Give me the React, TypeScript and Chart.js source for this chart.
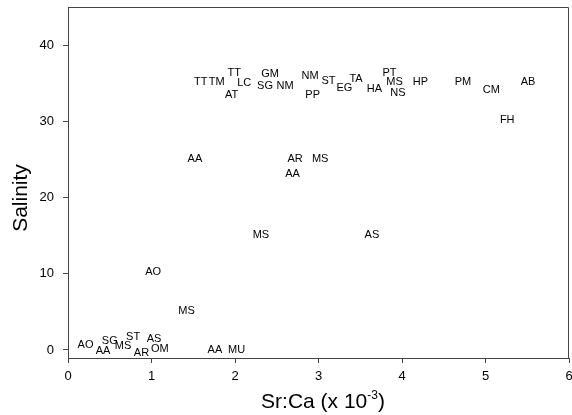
import React, { useEffect, useRef } from "react";
import { Chart, registerables } from "chart.js";

Chart.register(...registerables);

const siteLabels = [
  "TT", "TM", "TT", "LC", "AT", "GM", "SG", "NM", "NM", "PP",
  "ST", "EG", "TA", "HA", "PT", "MS", "NS", "HP", "PM", "CM",
  "AB", "FH", "AA", "AR", "MS", "AA", "MS", "AS", "AO", "MS",
  "AO", "AA", "SG", "MS", "ST", "AS", "AR", "OM", "AA", "MU",
];
const srCa = [
  1.59, 1.78, 1.99, 2.11, 1.96, 2.42, 2.36, 2.6, 2.9, 2.93,
  3.12, 3.31, 3.45, 3.67, 3.85, 3.91, 3.95, 4.22, 4.73, 5.07,
  5.51, 5.26, 1.52, 2.72, 3.02, 2.69, 2.31, 3.64, 1.02, 1.42,
  0.21, 0.42, 0.5, 0.66, 0.78, 1.03, 0.88, 1.1, 1.76, 2.02,
];
const salinity = [
  35.2, 35.2, 36.4, 35.0, 33.5, 36.2, 34.6, 34.6, 36.0, 33.5,
  35.3, 34.4, 35.6, 34.3, 36.4, 35.2, 33.7, 35.2, 35.2, 34.1,
  35.2, 30.2, 25.1, 25.1, 25.1, 23.1, 15.1, 15.1, 10.2, 5.1,
  0.66, -0.1, 1.2, 0.5, 1.7, 1.4, -0.4, 0.1, 0.0, 0.0,
];
const xTickValues = [0, 1, 2, 3, 4, 5, 6];
const yTickValues = [0, 10, 20, 30, 40];

const FONT = "'Liberation Sans', Arial, Helvetica, sans-serif";
const AXIS_COLOR = "#444";

const textLabelPlugin = {
  id: "textLabels",
  afterDatasetsDraw(chart: any) {
    const ctx = chart.ctx;
    const meta = chart.getDatasetMeta(0);
    ctx.save();
    ctx.font = `11px ${FONT}`;
    ctx.fillStyle = "#000";
    ctx.textAlign = "center";
    ctx.textBaseline = "middle";
    meta.data.forEach((pt: any, i: number) => {
      ctx.fillText(siteLabels[i], pt.x, pt.y);
    });
    ctx.restore();
  },
};

const framePlugin = {
  id: "frameAndTitles",
  afterDraw(chart: any) {
    const ctx = chart.ctx;
    const a = chart.chartArea;
    ctx.save();
    ctx.strokeStyle = AXIS_COLOR;
    ctx.lineWidth = 1;
    ctx.beginPath();
    ctx.moveTo(a.left, a.top + 0.5);
    ctx.lineTo(a.right - 0.5, a.top + 0.5);
    ctx.lineTo(a.right - 0.5, a.bottom);
    ctx.stroke();

    // Y title
    ctx.fillStyle = "#000";
    ctx.font = `21px ${FONT}`;
    ctx.textAlign = "center";
    ctx.textBaseline = "middle";
    ctx.save();
    ctx.translate(21, 198);
    ctx.rotate(-Math.PI / 2);
    ctx.fillText("Salinity", 0, 0);
    ctx.restore();

    // X title with superscript
    const main = "Sr:Ca (x 10";
    const sup = "-3";
    const close = ")";
    ctx.font = `21px ${FONT}`;
    const wMain = ctx.measureText(main).width;
    const wClose = ctx.measureText(close).width;
    ctx.font = `12px ${FONT}`;
    const wSup = ctx.measureText(sup).width;
    const total = wMain + wSup + wClose;
    const cx = 323;
    const baseY = 408;
    let x = cx - total / 2;
    ctx.textAlign = "left";
    ctx.textBaseline = "alphabetic";
    ctx.font = `21px ${FONT}`;
    ctx.fillText(main, x, baseY);
    x += wMain;
    ctx.font = `12px ${FONT}`;
    ctx.fillText(sup, x, baseY - 9);
    x += wSup;
    ctx.font = `21px ${FONT}`;
    ctx.fillText(close, x, baseY);
    ctx.restore();
  },
};

export default function App() {
  const canvasRef = useRef<HTMLCanvasElement | null>(null);

  useEffect(() => {
    document.body.style.margin = "0";
    const canvas = canvasRef.current;
    if (!canvas) return;
    const chart = new Chart(canvas, {
      type: "scatter",
      data: {
        datasets: [
          {
            data: srCa.map((v, i) => ({ x: v, y: salinity[i] })),
            pointRadius: 0,
            pointHoverRadius: 0,
            showLine: false,
          },
        ],
      },
      options: {
        responsive: false,
        animation: false,
        events: [],
        layout: { padding: { top: 7, right: 3, left: 0, bottom: 0 } },
        plugins: {
          legend: { display: false },
          tooltip: { enabled: false },
          title: { display: false },
        },
        scales: {
          x: {
            type: "linear",
            min: 0,
            max: 6,
            afterBuildTicks: (s: any) => {
              s.ticks = xTickValues.map((v) => ({ value: v }));
            },
            afterFit: (s: any) => {
              s.height = 57;
              s.paddingLeft = 0;
              s.paddingRight = 0;
              s.paddingTop = 0;
              s.paddingBottom = 0;
            },
            grid: {
              display: true,
              drawOnChartArea: false,
              drawTicks: true,
              tickLength: 5,
              color: AXIS_COLOR,
            },
            border: { display: true, color: AXIS_COLOR },
            ticks: {
              color: "#000",
              font: { family: FONT, size: 13 },
              padding: 6,
              maxRotation: 0,
              autoSkip: false,
            },
          },
          y: {
            type: "linear",
            min: -1.05,
            max: 45,
            afterBuildTicks: (s: any) => {
              s.ticks = yTickValues.map((v) => ({ value: v }));
            },
            afterFit: (s: any) => {
              s.width = 68;
              s.paddingLeft = 0;
              s.paddingRight = 0;
              s.paddingTop = 0;
              s.paddingBottom = 0;
            },
            grid: {
              display: true,
              drawOnChartArea: false,
              drawTicks: true,
              tickLength: 5,
              color: AXIS_COLOR,
            },
            border: { display: true, color: AXIS_COLOR },
            ticks: {
              color: "#000",
              font: { family: FONT, size: 13 },
              padding: 9,
              autoSkip: false,
            },
          },
        },
      } as any,
      plugins: [textLabelPlugin, framePlugin],
    });
    return () => chart.destroy();
  }, []);

  return (
    <div style={{ width: 572, height: 415 }}>
      <canvas ref={canvasRef} width={572} height={415} style={{ display: "block" }} />
    </div>
  );
}
